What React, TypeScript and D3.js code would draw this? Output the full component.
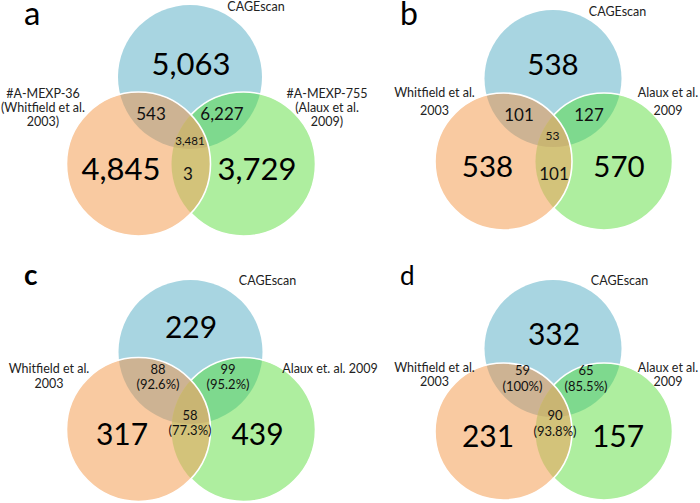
import React, { useEffect, useRef } from "react";
import * as d3 from "d3";

// ---------- data ----------
const panelLetters = ["a", "b", "c", "d"];
const setTopLabels = [["CAGEscan"], ["CAGEscan"], ["CAGEscan"], ["CAGEscan"]];
const setLeftLabels = [
  ["#A-MEXP-36", "(Whitfield et al.", "2003)"],
  ["Whitfield et al.", "2003"],
  ["Whitfield et al.", "2003"],
  ["Whitfield et al.", "2003"],
];
const setRightLabels = [
  ["#A-MEXP-755", "(Alaux et al.", "2009)"],
  ["Alaux et al.", "2009"],
  ["Alaux et. al. 2009"],
  ["Alaux et al.", "2009"],
];
const onlyTop = [["5,063"], ["538"], ["229"], ["332"]];
const onlyLeft = [["4,845"], ["538"], ["317"], ["231"]];
const onlyRight = [["3,729"], ["570"], ["439"], ["157"]];
const topLeft = [["543"], ["101"], ["88", "(92.6%)"], ["59", "(100%)"]];
const topRight = [["6,227"], ["127"], ["99", "(95.2%)"], ["65", "(85.5%)"]];
const allThree = [["3,481"], ["53"], ["58", "(77.3%)"], ["90", "(93.8%)"]];
const leftRight = [["3"], ["101"], [], []];

// ---------- layout ----------
type P = [number, number];
interface Lay {
  top: P; left: P; right: P; r: number;
  letter: P; letterSize: number; letterWeight: number;
  topLab: P; leftLab: P; rightLab: P; labGap: number;
  oTop: P; oLeft: P; oRight: P; bigSize: number;
  tl: P; tr: P; all: P; lr: P; midSize: number; smallSize: number; pairGap: number;
}
const layouts: Lay[] = [
  {
    top: [190, 77], left: [138.5, 164], right: [243.5, 164], r: 72,
    letter: [24, 25], letterSize: 33, letterWeight: 400,
    topLab: [256, 11], leftLab: [43, 98], rightLab: [327, 98], labGap: 14,
    oTop: [191, 75], oLeft: [121, 180], oRight: [257, 180], bigSize: 31,
    tl: [151, 120], tr: [222, 120], all: [190, 145], lr: [188, 180],
    midSize: 17, smallSize: 11.5, pairGap: 15,
  },
  {
    top: [553, 78.5], left: [503.5, 161.5], right: [604, 161.5], r: 68.5,
    letter: [400, 25], letterSize: 32, letterWeight: 400,
    topLab: [617.5, 16], leftLab: [434.5, 97], rightLab: [668, 97], labGap: 18,
    oTop: [553, 75], oLeft: [487.5, 177], oRight: [619, 177], bigSize: 29.5,
    tl: [519, 121], tr: [589, 121], all: [552.5, 140], lr: [554, 180],
    midSize: 17, smallSize: 12, pairGap: 15,
  },
  {
    top: [190.5, 352], left: [138.5, 429.5], right: [243.5, 429.5], r: 72,
    letter: [24, 285], letterSize: 28, letterWeight: 700,
    topLab: [267.5, 285], leftLab: [49, 373], rightLab: [330, 373], labGap: 15,
    oTop: [191, 338], oLeft: [122, 445], oRight: [257.5, 445], bigSize: 30,
    tl: [158, 374], tr: [228, 374], all: [190, 420], lr: [190, 440],
    midSize: 17, smallSize: 13, pairGap: 15,
  },
  {
    top: [553, 348.5], left: [503.5, 431.5], right: [604, 431.5], r: 68.5,
    letter: [400, 285], letterSize: 26, letterWeight: 400,
    topLab: [619.5, 285], leftLab: [434.5, 372], rightLab: [668, 372], labGap: 14,
    oTop: [554, 345], oLeft: [488, 447], oRight: [618, 447], bigSize: 30,
    tl: [522.5, 375], tr: [586, 375], all: [555, 420], lr: [555, 440],
    midSize: 17, smallSize: 13, pairGap: 15.5,
  },
];

const COLORS = {
  top: "#a8d5e1",
  left: "#f9caa1",
  right: "#aeee9f",
  tl: "#cdb393",
  tr: "#7ed98e",
  lr: "#d3c37a",
  all: "#c9b573",
};
const FONT = "Lato, 'Open Sans', sans-serif";

export default function App() {
  const ref = useRef<SVGSVGElement | null>(null);

  useEffect(() => {
    const svg = d3.select(ref.current);
    svg.selectAll("*").remove();
    const defs = svg.append("defs");

    layouts.forEach((L, i) => {
      const g = svg.append("g");
      const circ = (sel: any, c: P) =>
        sel.append("circle").attr("cx", c[0]).attr("cy", c[1]).attr("r", L.r);
      const clip = (name: string, c: P) => {
        const id = `clip-${name}-${i}`;
        circ(defs.append("clipPath").attr("id", id), c);
        return `url(#${id})`;
      };
      const cL = clip("l", L.left);
      const cR = clip("r", L.right);

      // top & right
      circ(g, L.top).attr("fill", COLORS.top);
      circ(g, L.right).attr("fill", COLORS.right);
      circ(g.append("g").attr("clip-path", cR), L.top).attr("fill", COLORS.tr);
      // right stroke
      circ(g, L.right).attr("fill", "none").attr("stroke", "#fff").attr("stroke-width", 1.6);
      // left and its intersections
      circ(g, L.left).attr("fill", COLORS.left);
      circ(g.append("g").attr("clip-path", cL), L.top).attr("fill", COLORS.tl);
      circ(g.append("g").attr("clip-path", cL), L.right).attr("fill", COLORS.lr);
      circ(
        g.append("g").attr("clip-path", cL).append("g").attr("clip-path", cR),
        L.top
      ).attr("fill", COLORS.all);
      circ(g, L.left).attr("fill", "none").attr("stroke", "#fff").attr("stroke-width", 1.6);

      const text = (lines: string[], pos: P, size: number, gap: number, color = "#000", anchor = "middle", weight = 400) => {
        lines.forEach((s, k) => {
          g.append("text")
            .attr("x", pos[0])
            .attr("y", pos[1] + k * gap)
            .attr("text-anchor", anchor)
            .attr("font-family", FONT)
            .attr("font-size", size)
            .attr("font-weight", weight)
            .attr("fill", color)
            .text(s);
        });
      };

      text([panelLetters[i]], L.letter, L.letterSize, 0, "#000", "start", L.letterWeight);
      const labSize = 12.5;
      text(setTopLabels[i], L.topLab, labSize, L.labGap, "#222");
      text(setLeftLabels[i], L.leftLab, labSize, L.labGap, "#222");
      text(setRightLabels[i], L.rightLab, labSize, L.labGap, "#222");

      text(onlyTop[i], L.oTop, L.bigSize, 0);
      text(onlyLeft[i], L.oLeft, L.bigSize, 0);
      text(onlyRight[i], L.oRight, L.bigSize, 0);

      const pairSize = (arr: string[]) => (arr.length > 1 ? L.smallSize : L.midSize);
      text(topLeft[i], L.tl, pairSize(topLeft[i]), L.pairGap, "#111");
      text(topRight[i], L.tr, pairSize(topRight[i]), L.pairGap, "#111");
      text(allThree[i], L.all, L.smallSize, L.pairGap, "#111");
      text(leftRight[i], L.lr, L.midSize, L.pairGap, "#111");
    });
  }, []);

  return (
    <div style={{ position: "absolute", left: 0, top: 0, width: 700, height: 503, background: "#fff" }}>
      <svg ref={ref} width={700} height={503} viewBox="0 0 700 503" />
    </div>
  );
}
